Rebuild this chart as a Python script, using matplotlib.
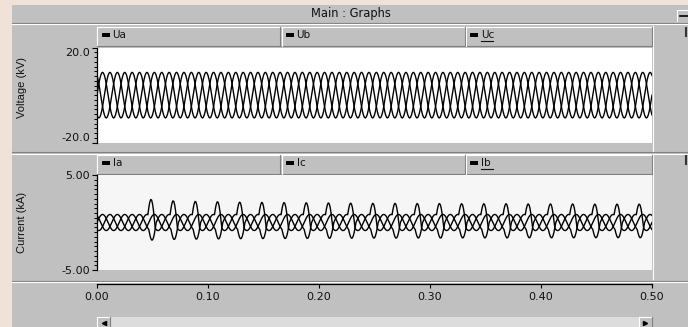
import numpy as np
import matplotlib
matplotlib.use('Agg')
import matplotlib.pyplot as plt
from matplotlib.patches import Rectangle
from matplotlib.lines import Line2D
from matplotlib.ticker import MultipleLocator

# 数据
freq = 50.0
n_cycles = 25
# 一个周期内的采样值（每周期24点），Ua, kV
ua_cycle = [0.0, 2.48, 4.80, 6.79, 8.31, 9.27, 9.60, 9.27, 8.31, 6.79, 4.80, 2.48,
            0.0, -2.48, -4.80, -6.79, -8.31, -9.27, -9.60, -9.27, -8.31, -6.79, -4.80, -2.48]
# 一个周期内的电流基波采样值, kA
ia_cycle = [0.0, 0.22, 0.425, 0.60, 0.74, 0.82, 0.85, 0.82, 0.74, 0.60, 0.425, 0.22,
            0.0, -0.22, -0.425, -0.60, -0.74, -0.82, -0.85, -0.82, -0.74, -0.60, -0.425, -0.22]
# 每周期的尖峰附加量 (Ia 向上, Ic 向下)
spike_a = [0, 0, 0, 0, 0, 0, 0, 0, 0.82, 1.52, 1.99, 2.15, 1.99, 1.52, 0.82, 0,
           0, 0, 0, 0, 0, 0, 0, 0]
spike_c = [0, 0, 0, 0, 0, 0, 0, 0, 0, -0.42, -0.78, -1.02, -1.10, -1.02, -0.78, -0.42,
           0, 0, 0, 0, 0, 0, 0, 0]
# 每个周期尖峰的大小
spike_scale = [0, 0, 1.0, 0.93, 0.90, 0.88, 0.86, 0.85, 0.84, 0.83, 0.82, 0.81, 0.80,
               0.80, 0.79, 0.79, 0.78, 0.78, 0.78, 0.77, 0.77, 0.77, 0.76, 0.76, 0.76]

v_names = ['Ua', 'Ub', 'Uc']
i_names = ['Ia', 'Ic', 'Ib']
x_ticks = [0.0, 0.1, 0.2, 0.3, 0.4, 0.5]
x_labels = ['0.00', '0.10', '0.20', '0.30', '0.40', '0.50']

# 生成波形
spc = len(ua_cycle)
t = np.arange(n_cycles * spc + 1) / spc / freq
ua = np.array(ua_cycle)
volts = [ua, np.roll(ua, 8), np.roll(ua, -8)]
volts = [np.append(np.tile(v, n_cycles), v[0]) for v in volts]

ib = np.array(ia_cycle)
scale = np.repeat(spike_scale, spc)
cur_a = np.tile(ib, n_cycles) + scale * np.tile(spike_a, n_cycles)
cur_b = np.tile(np.roll(ib, 8), n_cycles)
cur_c = np.tile(np.roll(ib, -8), n_cycles) + scale * np.tile(spike_c, n_cycles)
currents = [np.append(c, c[0]) for c in [cur_a, cur_b, cur_c]]

# 画布（像素坐标辅助）
W, H = 688, 327
GRAY = '#c0c0c0'
DARK = '#808080'
plt.rcParams['font.family'] = ['DejaVu Sans']
fig = plt.figure(figsize=(W / 100, H / 100), dpi=100, facecolor='#f1e2d7')


def rect(x0, y0, x1, y1, fc, z=-1):
    fig.add_artist(Rectangle((x0 / W, 1 - y1 / H), (x1 - x0) / W, (y1 - y0) / H,
                             transform=fig.transFigure, fc=fc, ec='none', zorder=z))


def line(x0, y0, x1, y1, c, lw=0.8, z=-0.5):
    fig.add_artist(Line2D([x0 / W, x1 / W], [1 - y0 / H, 1 - y1 / H],
                          transform=fig.transFigure, color=c, lw=lw, zorder=z))


def box(x0, y0, x1, y1):
    return [x0 / W, 1 - y1 / H, (x1 - x0) / W, (y1 - y0) / H]


# 窗口
rect(12, 5, 688, 327, GRAY, z=-2)
line(12, 22.5, 688, 22.5, DARK)
line(12, 24, 688, 24, 'white')
fig.text(351 / W, 1 - 14 / H, 'Main : Graphs', ha='center', va='center', fontsize=8.3, color='#111')
rect(677, 10, 688, 21, GRAY, z=-0.8)
line(677, 10, 688, 10, 'white')
line(677, 10, 677, 21, 'white')
line(680, 16, 688, 16, 'black', lw=1.2)

# 面板分隔线
line(12, 152, 688, 152, DARK)
line(12, 153.5, 688, 153.5, 'white')
line(12, 280.5, 688, 280.5, DARK)
line(12, 282, 688, 282, 'white')
line(653, 26, 653, 151, 'white')
line(653, 155, 653, 279, 'white')
line(686, 28, 686, 36, '#333', lw=1.5)
line(686, 156, 686, 164, '#333', lw=1.5)


def header(y0, y1, names, underline):
    rect(97, y0, 652, y1, GRAY, z=-0.8)
    line(97, y0, 652, y0, 'white')
    line(97, y0, 97, y1, 'white')
    line(97, y1, 652, y1, DARK)
    line(652, y0, 652, y1, DARK)
    starts = [97, 281, 465.5]
    for k, xs in enumerate(starts):
        if k > 0:
            line(xs - 0.7, y0, xs - 0.7, y1, DARK)
            line(xs + 0.5, y0, xs + 0.5, y1, 'white')
        ym = y0 + 8
        rect(xs + 4.5, ym - 2, xs + 12.5, ym + 1.8, 'black', z=-0.4)
        fig.text((xs + 15.5) / W, 1 - ym / H, names[k], ha='left', va='center',
                 fontsize=7.5, color='#111')
        if names[k] in underline:
            line(xs + 15.5, ym + 6, xs + 27, ym + 6, '#111', lw=0.8, z=0)


header(26.7, 46, v_names, ['Uc'])
header(155, 174, i_names, ['Ib'])


def panel(ax, data, lim, ticks, labels, minor, face, ylabel, yc):
    ax.set_facecolor(face)
    for y in data:
        ax.plot(t, y, color='black', lw=1.0)
    ax.set_xlim(0, 0.5)
    ax.set_ylim(-lim, lim)
    ax.set_xticks([])
    ax.set_yticks(ticks)
    ax.set_yticklabels(labels, fontsize=8, color='#111')
    ax.yaxis.set_minor_locator(MultipleLocator(minor))
    ax.tick_params(axis='y', which='major', direction='out', length=3.5, width=0.8, pad=1.5)
    ax.tick_params(axis='y', which='minor', direction='out', length=2, width=0.7)
    for s in ['top', 'right', 'bottom']:
        ax.spines[s].set_visible(False)
    ax.spines['left'].set_linewidth(0.9)
    fig.text(22 / W, 1 - yc / H, ylabel, rotation=90, ha='center', va='center',
             fontsize=8, family=['Liberation Sans', 'DejaVu Sans'], color='#111')


ax1 = fig.add_axes(box(97, 47.6, 652, 142.7))
panel(ax1, volts, 20, [-20, 20], ['-20.0', '20.0'], 2, 'white', 'Voltage (kV)', 87)
lbl = ax1.get_yticklabels()
lbl[0].set_va('bottom')
lbl[1].set_va('top')

ax2 = fig.add_axes(box(97, 175, 652, 270))
panel(ax2, currents, 5, [-5, 5], ['-5.00', '5.00'], 0.5, '#f6f6f6', 'Current (kA)', 222.5)

# 时间轴
ax3 = fig.add_axes(box(97, 283, 652, 284))
ax3.set_facecolor('none')
for s in ['top', 'right', 'left']:
    ax3.spines[s].set_visible(False)
ax3.spines['bottom'].set_linewidth(0.9)
ax3.set_xlim(0, 0.5)
ax3.set_yticks([])
ax3.set_xticks(x_ticks)
ax3.set_xticklabels(x_labels, fontsize=8, color='#111')
ax3.tick_params(axis='x', direction='out', length=3, width=0.8, pad=2.5)

# 滚动条
rect(97, 317, 652, 327, '#dcdcdc', z=-0.8)
for xa, xb, mk in [(97, 110, '<'), (638.5, 652, '>')]:
    rect(xa, 317, xb, 327, GRAY, z=-0.6)
    line(xa, 317, xb, 317, 'white', z=-0.5)
    line(xa, 317, xa, 327, 'white', z=-0.5)
    line(xb, 317, xb, 327, DARK, z=-0.5)
    fig.add_artist(Line2D([(xa + xb) / 2 / W], [1 - 322.5 / H], marker=mk, ms=3,
                          color='black', transform=fig.transFigure, zorder=0))

fig.savefig('out.png', dpi=100, facecolor=fig.get_facecolor())
